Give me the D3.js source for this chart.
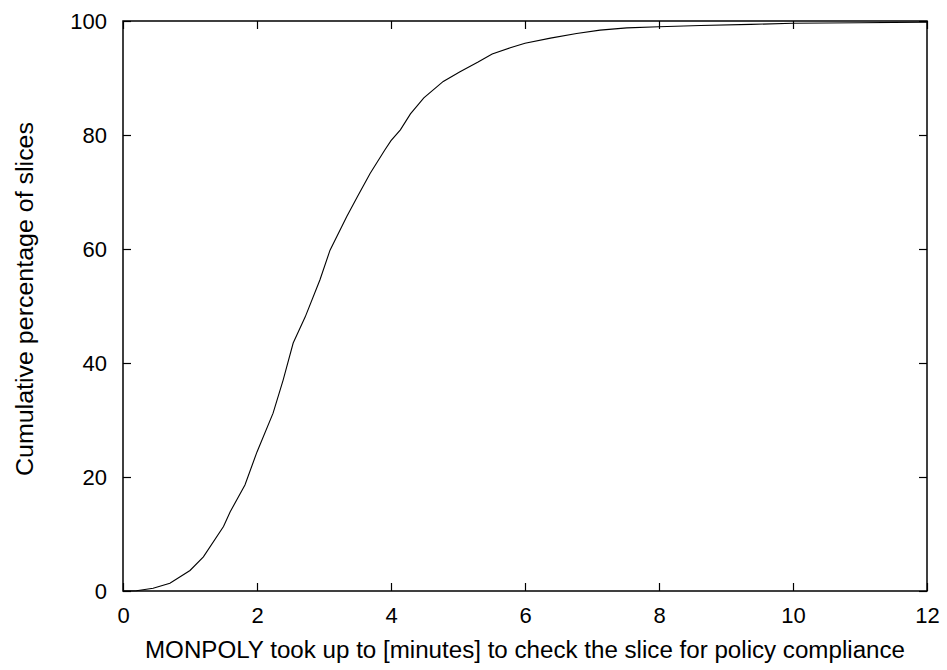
<!DOCTYPE html>
<html>
<head>
<meta charset="utf-8">
<script src="https://cdn.jsdelivr.net/npm/d3@7"></script>
<style>
  body { margin: 0; background: #fff; }
  text { font-family: "Liberation Sans", Arial, sans-serif; fill: #000; }
</style>
</head>
<body>
<div id="chart"></div>
<script>
// minutes taken by MONPOLY, cumulative percentage of slices
var minutes = [0, 0.2, 0.45, 0.7, 1.0, 1.2, 1.5, 1.6, 1.82, 2.0, 2.24, 2.39, 2.54, 2.72, 2.94, 3.09,
    3.34, 3.5, 3.69, 3.91, 4.0, 4.14, 4.29, 4.49, 4.78, 5.03, 5.3, 5.51, 5.78, 6.0, 6.38, 6.77,
    7.12, 7.52, 8.0, 8.62, 9.37, 10.0, 11.0, 12.0];
var percent = [0, 0.05, 0.47, 1.35, 3.6, 6.0, 11.3, 13.9, 18.6, 24.4, 31.2, 37.0, 43.5, 48.1, 54.6, 59.8,
    65.7, 69.2, 73.3, 77.4, 79.0, 80.9, 83.7, 86.5, 89.4, 91.1, 92.8, 94.2, 95.3, 96.1, 97.0, 97.8,
    98.4, 98.8, 99.0, 99.2, 99.4, 99.6, 99.7, 99.8];
var xTicks = [0, 2, 4, 6, 8, 10, 12];
var yTicks = [0, 20, 40, 60, 80, 100];

var margin = {top: 21, right: 20, bottom: 79, left: 123},
    width = 947 - margin.left - margin.right,
    height = 670 - margin.top - margin.bottom;

var svg = d3.select("#chart").append("svg")
    .attr("width", 947)
    .attr("height", 670)
    .append("g")
    .attr("transform", "translate(" + margin.left + "," + margin.top + ")");

var x = d3.scaleLinear().domain([0, 12]).range([0, width]);
var y = d3.scaleLinear().domain([0, 100]).range([height, 0]);

// inward ticks on all four sides, like gnuplot
var tickLen = 8;
svg.append("g").attr("transform", "translate(0," + height + ")")
    .call(d3.axisBottom(x).tickValues(xTicks).tickSize(-tickLen).tickPadding(16))
    .call(g => g.select(".domain").remove())
    .call(g => g.selectAll("text").style("font-size", "22px"));
svg.append("g")
    .call(d3.axisTop(x).tickValues(xTicks).tickSize(-tickLen).tickFormat(""))
    .call(g => g.select(".domain").remove());
svg.append("g")
    .call(d3.axisLeft(y).tickValues(yTicks).tickSize(-tickLen).tickPadding(16))
    .call(g => g.select(".domain").remove())
    .call(g => g.selectAll("text").style("font-size", "22px"));
svg.append("g").attr("transform", "translate(" + width + ",0)")
    .call(d3.axisRight(y).tickValues(yTicks).tickSize(-tickLen).tickFormat(""))
    .call(g => g.select(".domain").remove());

svg.selectAll(".tick line").attr("stroke", "#000").attr("stroke-width", 1.2);

svg.append("rect")
    .attr("width", width)
    .attr("height", height)
    .attr("fill", "none")
    .attr("stroke", "#000")
    .attr("stroke-width", 1.5);

var line = d3.line()
    .x(function(d, i) { return x(minutes[i]); })
    .y(function(d) { return y(d); });

svg.append("path")
    .datum(percent)
    .attr("fill", "none")
    .attr("stroke", "#000")
    .attr("stroke-width", 1.1)
    .attr("d", line);

svg.append("text")
    .attr("x", width / 2)
    .attr("y", height + 67)
    .attr("text-anchor", "middle")
    .attr("textLength", 760)
    .attr("lengthAdjust", "spacingAndGlyphs")
    .style("font-size", "23px")
    .text("MONPOLY took up to [minutes] to check the slice for policy compliance");

svg.append("text")
    .attr("transform", "translate(" + (33 - margin.left) + "," + (299 - margin.top) + ") rotate(-90)")
    .attr("text-anchor", "middle")
    .attr("textLength", 354)
    .attr("lengthAdjust", "spacingAndGlyphs")
    .style("font-size", "23px")
    .text("Cumulative percentage of slices");
</script>
</body>
</html>
